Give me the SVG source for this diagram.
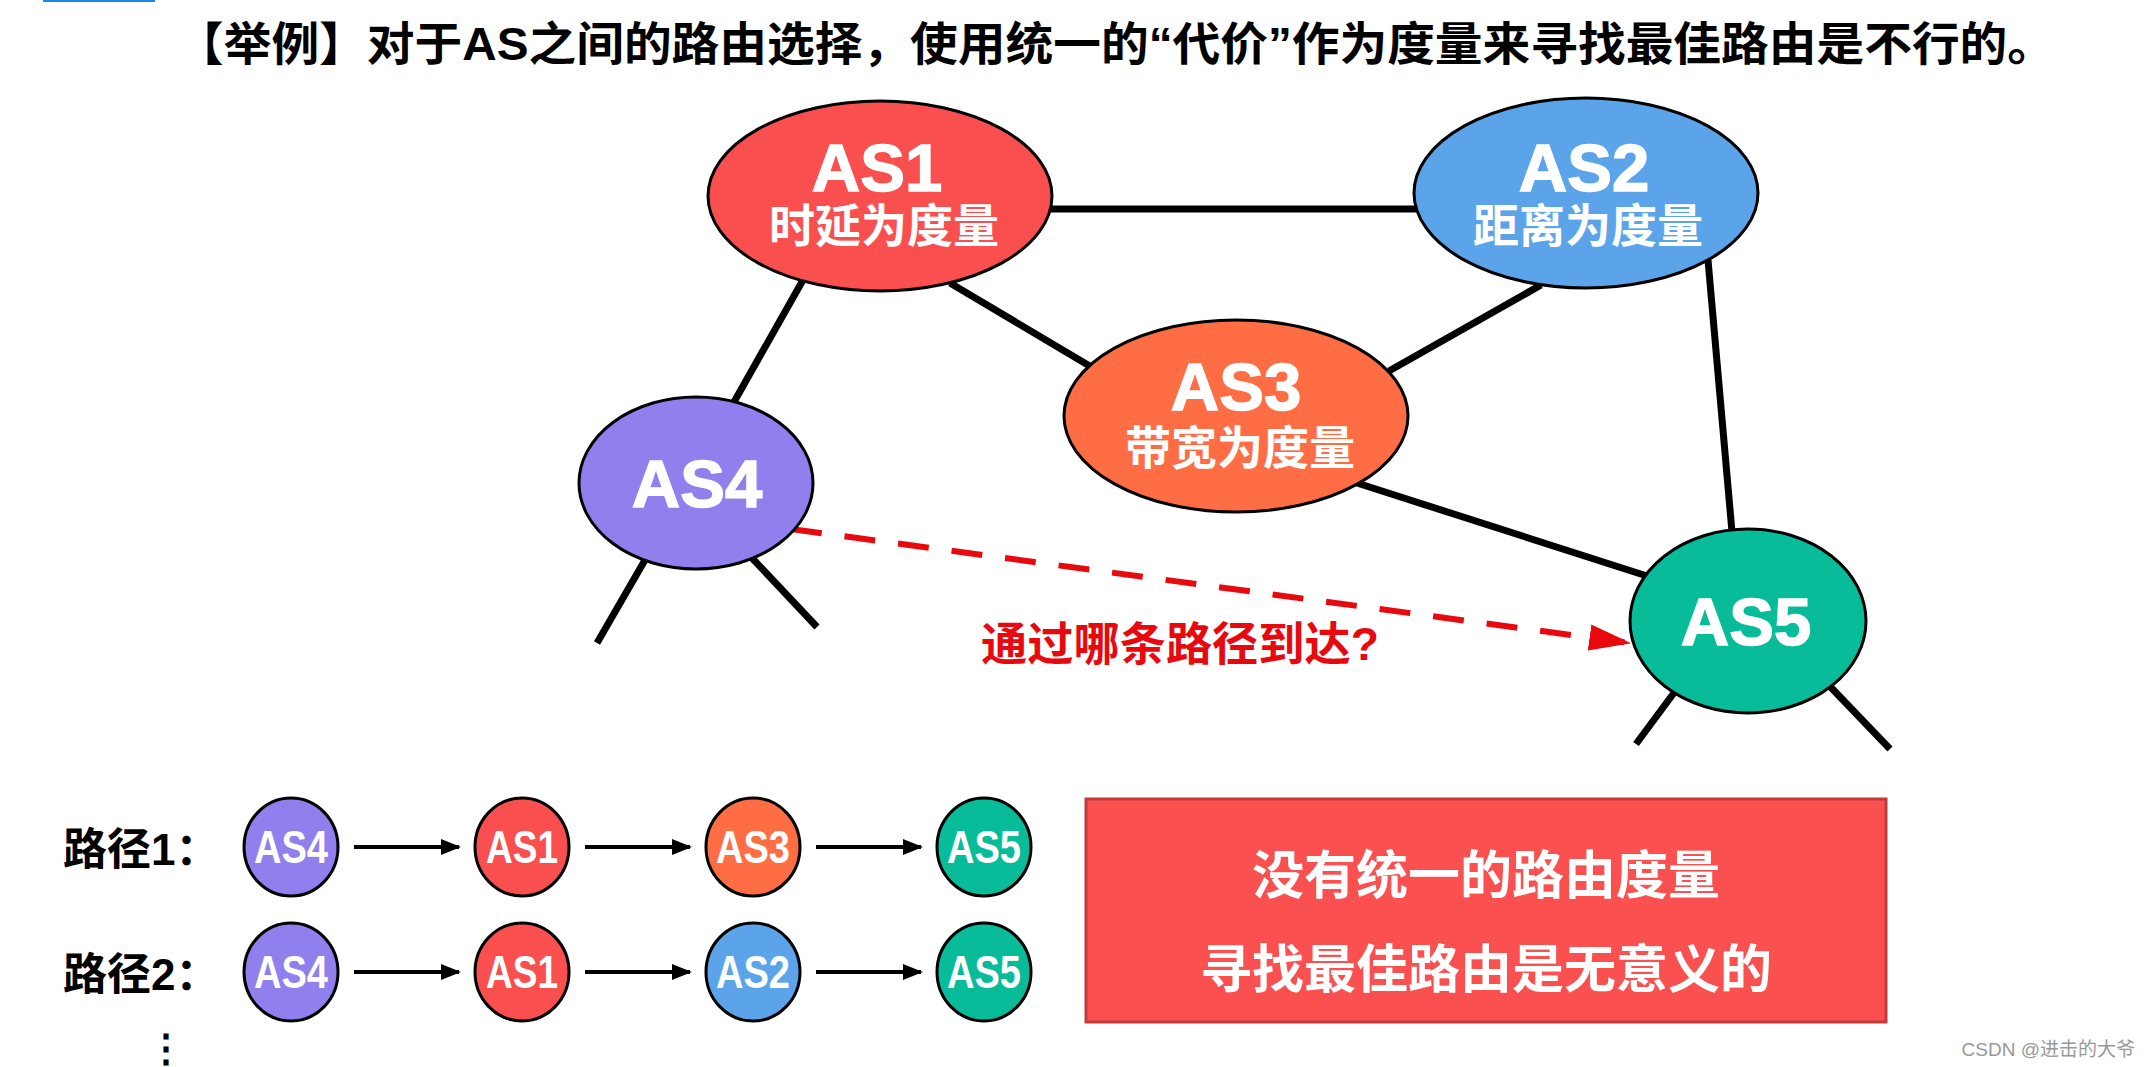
<svg xmlns="http://www.w3.org/2000/svg" width="2151" height="1067" viewBox="0 0 2151 1067">
<style>
text{font-family:"Liberation Sans","Noto Sans CJK SC",sans-serif;font-weight:bold}
.big{font-size:67px;fill:#fff;text-anchor:middle;stroke:#fff;stroke-width:1.5}
.sub{font-size:46px;fill:#fff;text-anchor:middle}
.sm{font-size:46px;fill:#fff;text-anchor:middle}
.node{stroke:#000;stroke-width:3}
.edge{stroke:#000;stroke-width:7;fill:none}
.arr{stroke:#000;stroke-width:4;fill:none;marker-end:url(#ah)}
.c1{fill:#F94F4F}.c2{fill:#5CA4E9}.c3{fill:#FF6D45}.c4{fill:#8F80EE}.c5{fill:#08BB99}
</style>
<defs>
<marker id="ah" markerWidth="5" markerHeight="4" refX="4.5" refY="2" orient="auto" markerUnits="strokeWidth">
<path d="M0,0 L5,2 L0,4 Z" fill="#000"/>
</marker>
<marker id="rh" markerWidth="7" markerHeight="4.4" refX="6.8" refY="2.2" orient="auto" markerUnits="strokeWidth">
<path d="M0,0 L7,2.2 L0,4.4 Z" fill="#E8090F"/>
</marker>
</defs>
<rect x="43" y="0" width="112" height="2" fill="#1E88E5"/>
<text x="176" y="60" font-size="46" textLength="1879" lengthAdjust="spacingAndGlyphs">【举例】对于AS之间的路由选择，使用统一的“代价”作为度量来寻找最佳路由是不行的。</text>

<g id="connectors">
<line class="edge" x1="1050" y1="209" x2="1416" y2="209"/>
<line class="edge" x1="803" y1="280" x2="734" y2="402"/>
<line class="edge" x1="950" y1="283" x2="1093" y2="368"/>
<line class="edge" x1="1541" y1="285" x2="1389" y2="371"/>
<line class="edge" x1="1708" y1="260" x2="1732" y2="532"/>
<line class="edge" x1="1357" y1="483" x2="1647" y2="576"/>
<line class="edge" x1="645" y1="560" x2="597" y2="643"/>
<line class="edge" x1="752" y1="558" x2="817" y2="627"/>
<line class="edge" x1="1682" y1="682" x2="1636" y2="744"/>
<line class="edge" x1="1820" y1="676" x2="1890" y2="749"/>
<line x1="791" y1="529" x2="1630" y2="643" stroke="#E8090F" stroke-width="6" stroke-dasharray="31 23" marker-end="url(#rh)"/>
<line class="arr" x1="354" y1="847" x2="459" y2="847"/>
<line class="arr" x1="585" y1="847" x2="690" y2="847"/>
<line class="arr" x1="816" y1="847" x2="921" y2="847"/>
<line class="arr" x1="354" y1="972" x2="459" y2="972"/>
<line class="arr" x1="585" y1="972" x2="690" y2="972"/>
<line class="arr" x1="816" y1="972" x2="921" y2="972"/>
</g>

<g id="as1"><ellipse class="node c1" cx="880" cy="196" rx="172" ry="95"/>
<text class="big" x="877" y="191">AS1</text><text class="sub" x="884" y="242">时延为度量</text></g>
<g id="as2"><ellipse class="node c2" cx="1586" cy="193" rx="172" ry="95"/>
<text class="big" x="1584" y="191">AS2</text><text class="sub" x="1588" y="242">距离为度量</text></g>
<g id="as3"><ellipse class="node c3" cx="1236" cy="416" rx="172" ry="96"/>
<text class="big" x="1236" y="410">AS3</text><text class="sub" x="1240" y="464">带宽为度量</text></g>
<g id="as4"><ellipse class="node c4" cx="696" cy="483" rx="117" ry="86"/>
<text class="big" x="697" y="507">AS4</text></g>
<g id="as5"><ellipse class="node c5" cx="1748" cy="621" rx="118" ry="92"/>
<text class="big" x="1746" y="645">AS5</text></g>

<text x="981" y="660" font-size="46" fill="#E8090F" textLength="398" lengthAdjust="spacingAndGlyphs">通过哪条路径到达?</text>

<text x="63" y="865" font-size="44" fill="#000">路径1：</text>
<text x="63" y="990" font-size="44" fill="#000">路径2：</text>
<text x="166" y="1062" font-size="38" fill="#000" text-anchor="middle" font-family="DejaVu Sans">⋮</text>

<g id="p1a"><ellipse class="node c4" cx="291" cy="847" rx="47" ry="49"/><text class="sm" x="291" y="863" textLength="74" lengthAdjust="spacingAndGlyphs">AS4</text></g>
<g id="p1b"><ellipse class="node c1" cx="522" cy="847" rx="47" ry="49"/><text class="sm" x="522" y="863" textLength="72" lengthAdjust="spacingAndGlyphs">AS1</text></g>
<g id="p1c"><ellipse class="node c3" cx="753" cy="847" rx="47" ry="49"/><text class="sm" x="753" y="863" textLength="74" lengthAdjust="spacingAndGlyphs">AS3</text></g>
<g id="p1d"><ellipse class="node c5" cx="984" cy="847" rx="47" ry="49"/><text class="sm" x="984" y="863" textLength="74" lengthAdjust="spacingAndGlyphs">AS5</text></g>
<g id="p2a"><ellipse class="node c4" cx="291" cy="972" rx="47" ry="49"/><text class="sm" x="291" y="988" textLength="74" lengthAdjust="spacingAndGlyphs">AS4</text></g>
<g id="p2b"><ellipse class="node c1" cx="522" cy="972" rx="47" ry="49"/><text class="sm" x="522" y="988" textLength="72" lengthAdjust="spacingAndGlyphs">AS1</text></g>
<g id="p2c"><ellipse class="node c2" cx="753" cy="972" rx="47" ry="49"/><text class="sm" x="753" y="988" textLength="74" lengthAdjust="spacingAndGlyphs">AS2</text></g>
<g id="p2d"><ellipse class="node c5" cx="984" cy="972" rx="47" ry="49"/><text class="sm" x="984" y="988" textLength="74" lengthAdjust="spacingAndGlyphs">AS5</text></g>

<g id="conclusion">
<rect x="1086" y="799" width="800" height="223" fill="#FA5050" stroke="#C23A3C" stroke-width="3"/>
<text class="sub" x="1486" y="894" style="font-size:52px">没有统一的路由度量</text>
<text class="sub" x="1486" y="988" style="font-size:52px">寻找最佳路由是无意义的</text>
</g>
<text x="2135" y="1056" fill="#999" text-anchor="end" style="font-weight:normal;font-size:19px">CSDN @进击的大爷</text>
</svg>
